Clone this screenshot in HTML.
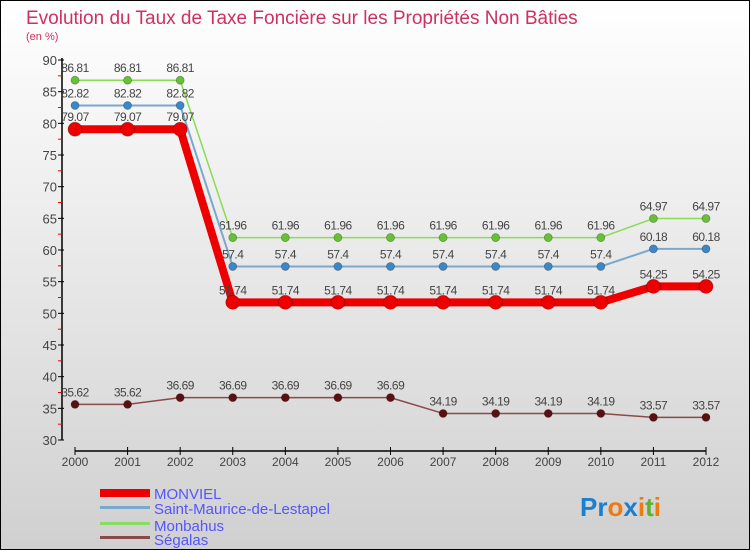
<!DOCTYPE html>
<html><head><meta charset="utf-8"><style>
body{margin:0;}
svg{display:block;font-family:"Liberation Sans",sans-serif;}
</style></head><body>
<svg width="750" height="550" viewBox="0 0 750 550">
<defs><linearGradient id="bg" x1="0" y1="0" x2="0" y2="1"><stop offset="0" stop-color="#ffffff"/><stop offset="1" stop-color="#d0d0d0"/></linearGradient></defs>
<rect x="0.5" y="0.5" width="749" height="549" fill="url(#bg)" stroke="#000"/>
<text x="26" y="24" font-size="19" fill="#d03060">Evolution du Taux de Taxe Foncière sur les Propriétés Non Bâties</text>
<text x="26" y="40" font-size="11" fill="#d03060">(en %)</text>
<g id="axes"></g>
<g id="series"></g>
<g id="legend">
<rect x="100" y="489" width="50" height="8" fill="#e00"/>
<text x="154" y="499" font-size="15" fill="#5555ff">MONVIEL</text>
<rect x="100" y="506" width="50" height="3" fill="#7aa8cc"/>
<text x="154" y="514" font-size="15" fill="#5555ff">Saint-Maurice-de-Lestapel</text>
<rect x="100" y="522" width="50" height="3" fill="#88dd66"/>
<text x="154" y="531" font-size="15" fill="#5555ff">Monbahus</text>
<rect x="100" y="536" width="50" height="3" fill="#8b4a4a"/>
<text x="154" y="545" font-size="15" fill="#5555ff">Ségalas</text>
</g>
<g font-size="26" font-weight="bold">
<text x="580" y="516"><tspan fill="#1a7fd0">Pr</tspan><tspan fill="#f07a10">o</tspan><tspan fill="#1a7fd0">x</tspan><tspan fill="#f07a10">i</tspan><tspan fill="#60b030">t</tspan><tspan fill="#f07a10">i</tspan></text>
</g>
</svg>
<script>
const years=["2000","2001","2002","2003","2004","2005","2006","2007","2008","2009","2010","2011","2012"];
const yTicks=[30,35,40,45,50,55,60,65,70,75,80,85,90];
const monviel=[79.07,79.07,79.07,51.74,51.74,51.74,51.74,51.74,51.74,51.74,51.74,54.25,54.25];
const saintMaurice=[82.82,82.82,82.82,57.4,57.4,57.4,57.4,57.4,57.4,57.4,57.4,60.18,60.18];
const monbahus=[86.81,86.81,86.81,61.96,61.96,61.96,61.96,61.96,61.96,61.96,61.96,64.97,64.97];
const segalas=[35.62,35.62,36.69,36.69,36.69,36.69,36.69,34.19,34.19,34.19,34.19,33.57,33.57];
const labMonviel=["79.07","79.07","79.07","51.74","51.74","51.74","51.74","51.74","51.74","51.74","51.74","54.25","54.25"];
const labSaint=["82.82","82.82","82.82","57.4","57.4","57.4","57.4","57.4","57.4","57.4","57.4","60.18","60.18"];
const labMonbahus=["86.81","86.81","86.81","61.96","61.96","61.96","61.96","61.96","61.96","61.96","61.96","64.97","64.97"];
const labSegalas=["35.62","35.62","36.69","36.69","36.69","36.69","36.69","34.19","34.19","34.19","34.19","33.57","33.57"];
const NS="http://www.w3.org/2000/svg";
function xs(i){return 75+i*(706-75)/(years.length-1);}
function ys(v){return 440-(v-30)*(380/60);}
function mk(tag,attrs,parent){const e=document.createElementNS(NS,tag);for(const k in attrs)e.setAttribute(k,attrs[k]);parent.appendChild(e);return e;}
const ax=document.getElementById('axes');
const yl=mk('line',{x1:62,y1:58,x2:62,y2:440,stroke:'#000','stroke-width':1.5},ax);


yTicks.forEach(t=>{
 mk('line',{x1:58,y1:ys(t),x2:64,y2:ys(t),stroke:'#000'},ax);
 if(t<90) mk('line',{x1:58,y1:ys(t+2.5),x2:62,y2:ys(t+2.5),stroke:'#e00'},ax);
 const tx=mk('text',{x:57,y:ys(t)+5,'font-size':13,fill:'#444','text-anchor':'end'},ax);
 tx.textContent=t;
 
 
});
const xl=mk('line',{x1:75,y1:451,x2:706,y2:451,stroke:'#000','stroke-width':1.5},ax);


years.forEach((y,i)=>{
 mk('line',{x1:xs(i),y1:447,x2:xs(i),y2:455,stroke:'#000'},ax);
 const tx=mk('text',{x:xs(i),y:466,'font-size':12,fill:'#444','text-anchor':'middle'},ax);
 tx.textContent=y;
 
 
});
const sg=document.getElementById('series');
function draw(vals,labels,color,ptColor,w,r,name){
 const g=mk('g',{},sg);
 
 
 const pts=vals.map((v,i)=>xs(i)+','+ys(v)).join(' ');
 const pl=mk('polyline',{points:pts,fill:'none',stroke:color,'stroke-width':w,'stroke-linejoin':'round'},g);
 
 
 vals.forEach((v,i)=>{
  const c=mk('circle',{cx:xs(i),cy:ys(v),r:r,fill:ptColor,stroke:'rgba(0,0,0,0.3)','stroke-width':0.8},g);
  
  
  const t=mk('text',{x:xs(i),y:ys(v)-8,'font-size':12,fill:'#444','text-anchor':'middle','letter-spacing':'-0.5'},g);
  t.textContent=labels[i];
  
  
 });
}
draw(segalas,labSegalas,'#8b4a4a','#5a1010',1.5,4,'segalas');
draw(monbahus,labMonbahus,'#88dd55','#66c233',1.5,4,'monbahus');
draw(saintMaurice,labSaint,'#7aa8cc','#3a88c8',2,4,'saint-maurice');
draw(monviel,labMonviel,'#ee0000','#ee0000',8,7,'monviel');
</script>
</body></html>
